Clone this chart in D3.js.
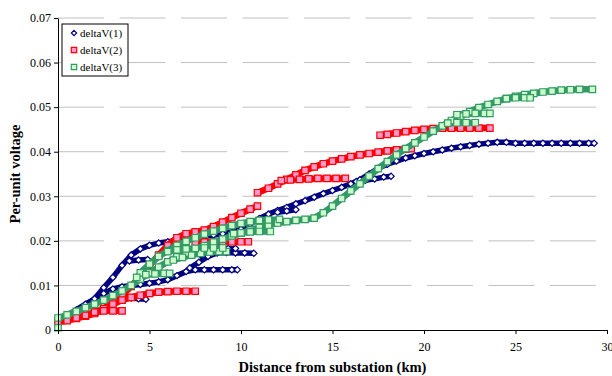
<!DOCTYPE html>
<html>
<head>
<meta charset="utf-8">
<script src="https://cdn.jsdelivr.net/npm/d3@7"></script>
<style>
  body { margin: 0; background: #fff; }
  svg { display: block; font-family: "Liberation Serif", "Times New Roman", serif; }
</style>
</head>
<body>
<script>
// tick labels
var xTicks = [0, 5, 10, 15, 20, 25, 30];
var yTicks = [0, 0.01, 0.02, 0.03, 0.04, 0.05, 0.06, 0.07];
var seriesNames = ['deltaV(1)', 'deltaV(2)', 'deltaV(3)'];

// deltaV(1) branches: [km, per-unit]
var v1Main = [[0,0.0022],[0.5,0.0033],[1,0.0045],[1.5,0.0058],[2,0.007],[2.5,0.0095],[3,0.0118],[3.5,0.0145],[4,0.0168],[4.5,0.0182],[5,0.019],[5.5,0.0195],[6,0.0198],[6.5,0.0201],[7,0.0204],[7.5,0.0207],[8,0.021],[8.5,0.0213],[9,0.0216],[9.5,0.022],[10,0.0226],[10.5,0.0238],[11,0.025],[11.5,0.026],[12,0.0268],[12.5,0.0275],[13,0.0283],[13.5,0.029],[14,0.0298],[14.5,0.0306],[15,0.0313],[15.5,0.032],[16,0.0328],[16.5,0.0337],[17,0.035],[17.5,0.0363],[18,0.0372],[18.5,0.0379],[19,0.0386],[19.5,0.0391],[20,0.0396],[20.5,0.04],[21,0.0404],[21.5,0.0408],[22,0.0411],[22.5,0.0414],[23,0.0417],[23.5,0.0419],[24,0.0421],[24.5,0.0421],[25,0.0419],[25.5,0.0419],[26,0.0419],[26.5,0.0419],[27,0.0419],[27.5,0.0419],[28,0.0419],[28.5,0.0419],[29,0.0419],[29.3,0.0419]];
var v1Lower = [[2,0.007],[2.5,0.0082],[3,0.0092],[3.5,0.0097],[4,0.01],[4.5,0.0102],[5,0.0105],[5.5,0.0108],[6,0.0113],[6.5,0.0122],[7,0.0131],[7.5,0.0135],[8,0.0135],[8.5,0.0135],[9,0.0135],[9.5,0.0135],[9.8,0.0135]];
var v1Hook = [[3.6,0.0078],[4,0.0072],[4.4,0.007],[4.8,0.0069]];
var v1Short = [[3.9,0.0155],[4.4,0.0157],[4.9,0.0158]];
var v1B17 = [[7.2,0.0139],[7.7,0.0152],[8.2,0.0165],[8.7,0.0173],[9.2,0.0174],[9.7,0.0173],[10.2,0.0173],[10.7,0.0172]];
var v1B18 = [[7.8,0.0168],[8.3,0.0178],[8.8,0.0182],[9.3,0.0183],[9.7,0.0183]];
var v1B27 = [[12,0.0264],[12.5,0.0267],[13,0.027]];
var v1B34 = [[16.3,0.0333],[16.8,0.0336],[17.3,0.0339],[17.8,0.0343],[18.2,0.0345]];

// deltaV(2) branches
var v2Main = [[0,0.0017],[0.5,0.0021],[1,0.0026],[1.5,0.0031],[2,0.0037],[2.5,0.0048],[3,0.0062],[3.5,0.0078],[4,0.0098],[4.5,0.012],[5,0.0145],[5.5,0.0168],[6,0.019],[6.5,0.0207],[7,0.0216],[7.5,0.022],[8,0.0224],[8.5,0.0232],[9,0.0242],[9.5,0.0252],[10,0.0262],[10.5,0.0271],[10.9,0.0278]];
var v2Low = [[1,0.0027],[1.5,0.0033],[2,0.004],[2.5,0.0048],[3,0.0058],[3.5,0.0067],[4,0.0073],[4.5,0.0078],[5,0.0082],[5.5,0.0085],[6,0.0086],[6.5,0.0087],[7,0.0087],[7.5,0.0087]];
var v2Stub = [[2,0.004],[2.5,0.0043],[3,0.0043],[3.5,0.0043]];
var v2B20 = [[7.5,0.0195],[8,0.0197],[8.5,0.0198],[9,0.0198],[9.5,0.0198],[10,0.0198],[10.4,0.0198]];
var v2Upper = [[10.9,0.0308],[11.5,0.0318],[12,0.0328],[12.5,0.0338],[13,0.0348],[13.5,0.0358],[14,0.0366],[14.5,0.0373],[15,0.0379],[15.5,0.0384],[16,0.0389],[16.5,0.0393],[17,0.0396],[17.5,0.0399],[18,0.0402],[18.5,0.0404],[19,0.0406],[19.3,0.0407]];
var v2B34 = [[12.2,0.0335],[12.7,0.0337],[13.2,0.0338],[13.7,0.0339],[14.2,0.034],[14.7,0.034],[15.2,0.034],[15.7,0.034]];
var v2Top = [[17.6,0.0437],[18,0.0439],[18.5,0.0442],[19,0.0445],[19.5,0.0448],[20,0.045],[20.5,0.0452],[21,0.0453],[21.5,0.0453],[22,0.0453],[22.5,0.0453],[23,0.0453],[23.6,0.0453]];

// deltaV(3) branches
var v3Zero = [[0,0.0005]];
var v3Main = [[0,0.0027],[0.5,0.0034],[1,0.0042],[1.5,0.005],[2,0.0058],[2.5,0.0067],[3,0.0077],[3.5,0.0088],[4,0.01],[4.5,0.0114],[5,0.0128],[5.5,0.0141],[6,0.0153],[6.5,0.0164],[7,0.0173],[7.5,0.0181],[8,0.0189],[8.5,0.0197],[9,0.0204],[9.5,0.0211],[10,0.0217],[10.5,0.0224],[11,0.023],[11.5,0.0235],[12,0.024],[12.5,0.0243],[13,0.0246],[13.5,0.0248],[14,0.0251],[14.5,0.0263],[15,0.0278],[15.5,0.0295],[16,0.0312],[16.5,0.0328],[17,0.0345],[17.5,0.0362],[18,0.0378],[18.5,0.0393],[19,0.0407],[19.5,0.042],[20,0.0433],[20.5,0.0446],[21,0.0458],[21.5,0.047],[22,0.048],[22.5,0.049],[23,0.0499],[23.5,0.0506],[24,0.0513],[24.5,0.0519],[25,0.0524],[25.5,0.0528],[26,0.0531],[26.5,0.0534],[27,0.0536],[27.5,0.0538],[28,0.0539],[28.5,0.054],[29.2,0.054]];
var v3Upper = [[4.5,0.0128],[5,0.0148],[5.5,0.0165],[6,0.0178],[6.5,0.019],[7,0.0199],[7.5,0.0207],[8,0.0215],[8.5,0.0222],[9,0.0228],[9.5,0.0234],[10,0.0239],[10.5,0.0243],[11,0.0246],[11.5,0.0247],[12.1,0.0248]];
var v3B12 = [[4.3,0.0118],[4.8,0.0124],[5.3,0.0126],[5.8,0.0127],[6.1,0.0127]];
var v3B17 = [[6.3,0.0157],[6.8,0.0163],[7.3,0.0168],[7.8,0.0172],[8.3,0.0175],[8.8,0.0176],[9.2,0.0176]];
var v3B18 = [[6,0.0176],[6.5,0.018],[7,0.0182],[7.5,0.0183],[8,0.0184],[8.5,0.0184],[9,0.0184]];
var v3B22 = [[9.6,0.0216],[10,0.0218],[10.5,0.022],[11,0.0221],[11.6,0.0221]];
var v3B46 = [[21.3,0.0464],[21.8,0.0465],[22.3,0.0465],[22.8,0.0465]];
var v3B48 = [[21.8,0.0483],[22.3,0.0485],[22.8,0.0486],[23.3,0.0486],[23.6,0.0486]];
var v3B52 = [[24.5,0.0519],[25,0.0521],[25.5,0.0521],[25.8,0.0521]];

var deltaV1 = [v1Main, v1Lower, v1Hook, v1Short, v1B17, v1B18, v1B27, v1B34];
var deltaV2 = [v2Main, v2Low, v2Stub, v2B20, v2Upper, v2B34, v2Top];
var deltaV3 = [v3Zero, v3Main, v3Upper, v3B12, v3B17, v3B18, v3B22, v3B46, v3B48, v3B52];

var w = 612, h = 376;
var margin = {left: 58, right: 607, top: 18, bottom: 330};

// square-shaped diamond like the spreadsheet marker
var diamond = {
  draw: function(ctx, size) {
    var r = Math.sqrt(size) / 2 * 1.15;
    ctx.moveTo(0, -r);
    ctx.lineTo(r, 0);
    ctx.lineTo(0, r);
    ctx.lineTo(-r, 0);
    ctx.closePath();
  }
};

var styles = [
  {name: seriesNames[0], data: deltaV1, stroke: '#000080', fill: '#ffffff', shape: diamond, size: 30, band: 5.5},
  {name: seriesNames[1], data: deltaV2, stroke: '#ff0000', fill: '#ff99cc', shape: d3.symbolSquare, size: 42, band: 6.5},
  {name: seriesNames[2], data: deltaV3, stroke: '#339966', fill: '#ccffcc', shape: d3.symbolSquare, size: 42, band: 6.5}
];

var svg = d3.select('body').append('svg')
  .attr('width', w)
  .attr('height', h);

var x = d3.scaleLinear().domain([0, 30]).range([margin.left, margin.right]);
var y = d3.scaleLinear().domain([0, 0.07]).range([margin.bottom, margin.top]);

// dashed gridlines
svg.append('g')
  .selectAll('line')
  .data(yTicks.slice(1))
  .enter()
  .append('line')
  .attr('x1', margin.left)
  .attr('x2', margin.right)
  .attr('y1', function(d) { return y(d); })
  .attr('y2', function(d) { return y(d); })
  .attr('stroke', '#c0c0c0')
  .attr('stroke-width', 1)
  .attr('stroke-dasharray', '46,15.5');

var line = d3.line()
  .x(function(d) { return x(d[0]); })
  .y(function(d) { return y(d[1]); });

// each series: a band under the markers, then the markers
styles.forEach(function(s) {
  var g = svg.append('g');
  g.selectAll('path.band')
    .data(s.data)
    .enter()
    .append('path')
    .attr('class', 'band')
    .attr('d', line)
    .attr('fill', 'none')
    .attr('stroke', s.stroke)
    .attr('stroke-width', s.band)
    .attr('stroke-linejoin', 'round');

  var pts = [];
  s.data.forEach(function(b) { pts = pts.concat(b); });
  g.selectAll('path.mark')
    .data(pts)
    .enter()
    .append('path')
    .attr('class', 'mark')
    .attr('d', d3.symbol().type(s.shape).size(s.size))
    .attr('transform', function(d) { return 'translate(' + x(d[0]) + ',' + y(d[1]) + ')'; })
    .attr('fill', s.fill)
    .attr('stroke', s.stroke)
    .attr('stroke-width', 1.2);
});

// axes
var xAxis = d3.axisBottom(x).tickValues(xTicks).tickSize(4).tickSizeOuter(0).tickFormat(d3.format('d'));
var yAxis = d3.axisLeft(y).tickValues(yTicks).tickSize(4).tickSizeOuter(0)
  .tickFormat(function(d) { return d === 0 ? '0' : d3.format('.2f')(d); });

var gx = svg.append('g').attr('transform', 'translate(0,' + margin.bottom + ')').call(xAxis);
var gy = svg.append('g').attr('transform', 'translate(' + margin.left + ',0)').call(yAxis);
[gx, gy].forEach(function(g) {
  g.selectAll('path, line').attr('stroke', '#000');
  g.selectAll('text')
    .attr('fill', '#000')
    .style('font-family', '"Liberation Serif", serif')
    .style('font-size', '12px');
});
gx.selectAll('text').attr('dy', '1.2em');
gy.selectAll('text').attr('x', -7);

// axis titles
svg.append('text')
  .attr('x', (margin.left + margin.right) / 2)
  .attr('y', 372)
  .attr('text-anchor', 'middle')
  .style('font-weight', 'bold')
  .style('font-size', '14.5px')
  .text('Distance from substation (km)');

svg.append('text')
  .attr('transform', 'translate(20,' + ((margin.top + margin.bottom) / 2) + ') rotate(-90)')
  .attr('text-anchor', 'middle')
  .style('font-weight', 'bold')
  .style('font-size', '14.5px')
  .text('Per-unit voltage');

// legend
var legend = svg.append('g').attr('transform', 'translate(62,24)');
legend.append('rect')
  .attr('width', 66)
  .attr('height', 52)
  .attr('fill', '#fff')
  .attr('stroke', '#000')
  .attr('stroke-width', 1);

styles.forEach(function(s, i) {
  var row = legend.append('g').attr('transform', 'translate(12,' + (9 + i * 17) + ')');
  row.append('path')
    .attr('d', d3.symbol().type(s.shape).size(s.size * 0.7))
    .attr('fill', s.fill)
    .attr('stroke', s.stroke)
    .attr('stroke-width', 1.2);
  row.append('text')
    .attr('x', 6)
    .attr('y', 4)
    .style('font-size', '11px')
    .text(s.name);
});
</script>
</body>
</html>
